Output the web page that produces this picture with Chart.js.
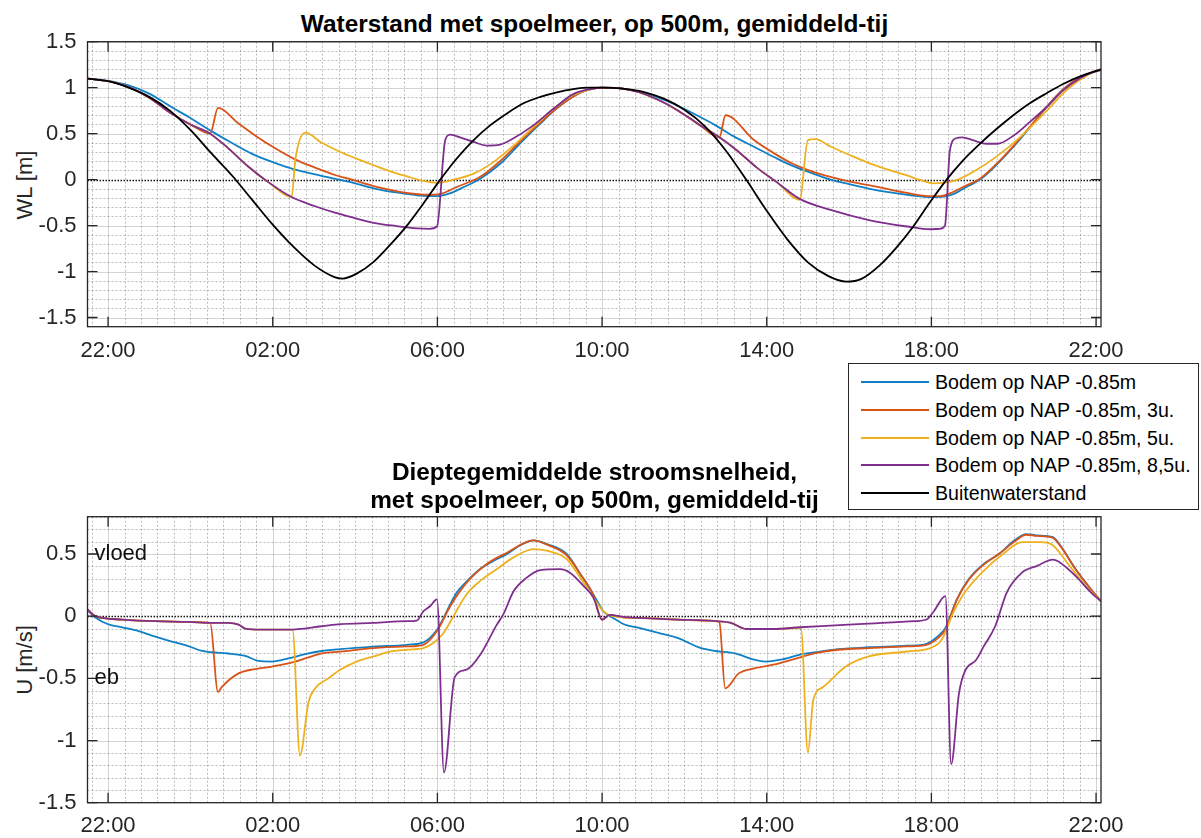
<!DOCTYPE html>
<html>
<head>
<meta charset="utf-8">
<script src="https://cdn.jsdelivr.net/npm/chart.js@4.4.1/dist/chart.umd.min.js"></script>
<style>
  body { margin: 0; background: #fff; width: 1201px; height: 838px; position: relative; overflow: hidden;
         font-family: "Liberation Sans", Arial, Helvetica, sans-serif; color: #262626; }
  canvas { position: absolute; left: 0; }
  #wlCanvas { top: 0; }
  #uCanvas { top: 470px; }
  .title { position: absolute; left: 0; width: 1189px; text-align: center; font-weight: bold;
           font-size: 24.4px; line-height: 28px; color: #000; white-space: nowrap; }
  .ylab { position: absolute; width: 200px; height: 26px; line-height: 26px; font-size: 22px;
          text-align: center; transform: rotate(-90deg); white-space: nowrap; }
  #legend { position: absolute; left: 848px; top: 363px; width: 349px; height: 145px; background: #fff;
            border: 1px solid #262626; z-index: 5; }
  .entry { position: absolute; left: 0; height: 28px; width: 349px; font-size: 19.6px; line-height: 28px; color: #000; }
  .entry i { position: absolute; left: 12px; top: 13px; width: 68px; height: 2px; }
  .entry span { position: absolute; left: 86px; top: 0; white-space: nowrap; }
</style>
</head>
<body>
<div class="title" style="top:10px">Waterstand met spoelmeer, op 500m, gemiddeld-tij</div>
<div class="title" style="top:458px; z-index:4">Dieptegemiddelde stroomsnelheid,<br>met spoelmeer, op 500m, gemiddeld-tij</div>
<div class="ylab" style="left:-75px; top:172px">WL [m]</div>
<div class="ylab" style="left:-75px; top:647px">U [m/s]</div>
<canvas id="wlCanvas" width="1201" height="380"></canvas>
<canvas id="uCanvas" width="1201" height="368"></canvas>
<div id="legend"></div>

<script>
// time axis in hours after 22:00 (day 1)
const X_MIN = -0.5, X_MAX = 24.12;
const xTickHours = [0, 4, 8, 12, 16, 20, 24];
const xTickLabels = ['22:00', '02:00', '06:00', '10:00', '14:00', '18:00', '22:00'];

const wlTickValues = [-1.5, -1, -0.5, 0, 0.5, 1, 1.5];
const wlTickLabels = ['-1.5', '-1', '-0.5', '0', '0.5', '1', '1.5'];
const uTickValues = [-1.5, -1, -0.5, 0, 0.5];
const uTickLabels = ['-1.5', '-1', '-0.5', '0', '0.5'];

const seriesNames = ['Bodem op NAP -0.85m', 'Bodem op NAP -0.85m, 3u.', 'Bodem op NAP -0.85m, 5u.',
                     'Bodem op NAP -0.85m, 8,5u.', 'Buitenwaterstand'];
const seriesColors = ['#0f80c6', '#d95319', '#edb120', '#7e2f8e', '#000000'];

// waterstand [m] as [hour, value]
const wlBlue = [[-0.5,1.098],[0,1.075],[0.5,1.025],[1,0.935],[1.5,0.80],[2,0.67],[2.5,0.53],[3,0.40],[3.5,0.28],
  [4,0.19],[4.5,0.115],[5,0.06],[5.5,0.01],[6,-0.04],[6.5,-0.10],[7,-0.14],[7.5,-0.17],[8,-0.18],[8.3,-0.15],
  [8.6,-0.09],[9.04,0.01],[9.52,0.17],[10,0.39],[10.5,0.61],[11,0.81],[11.5,0.95],[12,1.0],[12.5,0.99],
  [12.9,0.955],[13.4,0.885],[13.85,0.80],[14.3,0.70],[14.76,0.59],[15.2,0.47],[15.7,0.355],[16.2,0.24],
  [16.6,0.155],[17.1,0.07],[17.55,0.0],[18,-0.05],[18.5,-0.10],[19,-0.14],[19.5,-0.17],[20,-0.19],[20.3,-0.185],
  [20.55,-0.155],[20.85,-0.08],[21.18,0.0],[21.58,0.16],[22,0.36],[22.4,0.57],[22.8,0.79],[23.2,0.98],
  [23.6,1.11],[24.12,1.2]];
const wlOrange = [[-0.5,1.098],[0,1.07],[0.5,1.005],[1,0.89],[1.5,0.73],[2,0.60],[2.48,0.50],[2.67,0.78],
  [3.17,0.61],[3.57,0.48],[4.06,0.34],[4.54,0.22],[5.03,0.13],[5.51,0.05],[5.84,0.01],[6.45,-0.07],[7.26,-0.145],
  [7.74,-0.165],[8.07,-0.155],[8.47,-0.08],[9.04,0.03],[9.52,0.20],[10,0.41],[10.5,0.62],[11,0.81],[11.5,0.95],
  [12,1.0],[12.5,0.99],[12.9,0.95],[13.4,0.86],[13.85,0.75],[14.35,0.60],[14.85,0.46],[15.0,0.70],[15.69,0.43],
  [16.2,0.28],[16.62,0.175],[17.1,0.09],[17.55,0.03],[18,-0.02],[18.48,-0.06],[19,-0.11],[19.41,-0.145],
  [19.97,-0.18],[20.2,-0.18],[20.5,-0.14],[20.77,-0.08],[21.18,0.01],[21.58,0.17],[22,0.37],[22.4,0.58],
  [22.8,0.79],[23.2,0.98],[23.6,1.11],[24.12,1.2]];
const wlYellow = [[-0.5,1.098],[0,1.07],[0.5,1.005],[1,0.89],[1.5,0.73],[2,0.60],[2.48,0.50],[2.92,0.34],
  [3.41,0.14],[3.9,-0.03],[4.46,-0.19],[4.55,0.22],[4.79,0.51],[5.19,0.40],[5.64,0.30],[6.05,0.225],[6.45,0.156],
  [6.85,0.09],[7.26,0.035],[7.66,-0.015],[7.99,-0.035],[8.31,-0.01],[8.88,0.065],[9.36,0.19],[9.85,0.37],
  [10.33,0.57],[10.82,0.77],[11.3,0.92],[11.8,0.99],[12,1.0],[12.5,0.99],[12.9,0.95],[13.4,0.86],[13.85,0.75],
  [14.35,0.60],[14.85,0.46],[15.27,0.32],[15.76,0.13],[16.25,-0.03],[16.8,-0.22],[17.0,0.43],[17.18,0.44],
  [17.55,0.36],[18,0.27],[18.48,0.18],[19,0.10],[19.41,0.045],[19.7,0.0],[20.06,-0.04],[20.3,-0.035],
  [20.61,-0.005],[21,0.08],[21.58,0.25],[22.15,0.46],[22.8,0.75],[23.3,0.98],[23.93,1.17],[24.12,1.2]];
const wlPurple = [[-0.5,1.098],[0,1.07],[0.5,1.005],[1,0.89],[1.5,0.73],[2,0.60],[2.48,0.50],[2.92,0.34],
  [3.41,0.14],[3.9,-0.03],[4.46,-0.19],[5.03,-0.29],[5.51,-0.36],[5.84,-0.40],[6.45,-0.47],[7,-0.505],
  [7.5,-0.53],[7.8,-0.535],[7.99,-0.51],[8.19,0.43],[8.31,0.49],[8.55,0.46],[8.88,0.41],[9.2,0.37],[9.52,0.38],
  [9.85,0.45],[10.33,0.59],[10.82,0.77],[11.3,0.93],[11.79,0.99],[12,1.0],[12.5,0.99],[12.9,0.95],[13.4,0.86],
  [13.85,0.75],[14.35,0.60],[14.85,0.46],[15.27,0.32],[15.76,0.13],[16.25,-0.03],[16.8,-0.21],[17.55,-0.33],
  [18.48,-0.44],[19.41,-0.51],[19.97,-0.54],[20.2,-0.535],[20.33,-0.50],[20.45,0.32],[20.6,0.45],[20.75,0.46],
  [21,0.43],[21.34,0.39],[21.6,0.39],[22,0.48],[22.4,0.63],[22.8,0.79],[23.2,0.97],[23.6,1.10],[23.93,1.17],
  [24.12,1.19]];
const wlBlack = [[-0.5,1.098],[0,1.07],[0.5,1.0],[1,0.90],[1.5,0.75],[2,0.54],[2.5,0.29],[3,0.05],[3.5,-0.22],
  [4,-0.49],[4.5,-0.73],[5,-0.93],[5.5,-1.06],[5.7,-1.076],[6.05,-1.02],[6.45,-0.895],[6.85,-0.71],[7.26,-0.50],
  [7.66,-0.26],[8.07,0.0],[8.47,0.23],[8.88,0.43],[9.28,0.59],[9.69,0.72],[10.09,0.83],[10.5,0.90],[10.9,0.95],
  [11.3,0.985],[11.7,1.0],[12,1.0],[12.5,0.99],[13,0.955],[13.5,0.88],[14,0.76],[14.5,0.58],[15,0.32],[15.5,0.0],
  [16,-0.34],[16.5,-0.65],[17,-0.90],[17.5,-1.05],[17.93,-1.11],[18.3,-1.08],[18.75,-0.93],[19.15,-0.74],
  [19.56,-0.51],[19.96,-0.25],[20.37,0.0],[20.77,0.21],[21.18,0.39],[21.58,0.55],[21.99,0.70],[22.39,0.83],
  [22.8,0.94],[23.2,1.04],[23.6,1.12],[24.12,1.2]];

// stroomsnelheid [m/s] as [hour, value]
const uBlue = [[-0.5,0.045],[-0.31,-0.01],[0,-0.065],[0.34,-0.09],[0.74,-0.12],[1.15,-0.165],[1.55,-0.205],
  [1.95,-0.24],[2.28,-0.28],[2.52,-0.29],[2.92,-0.30],[3.33,-0.32],[3.65,-0.36],[3.98,-0.365],[4.38,-0.34],
  [4.79,-0.305],[5.19,-0.28],[5.64,-0.265],[6.45,-0.245],[7.26,-0.23],[7.66,-0.21],[7.82,-0.175],[7.99,-0.11],
  [8.15,-0.015],[8.31,0.095],[8.47,0.19],[8.71,0.28],[9.04,0.38],[9.36,0.445],[9.69,0.50],[10.01,0.57],
  [10.33,0.61],[10.66,0.58],[11.14,0.50],[11.47,0.34],[11.79,0.175],[12.03,0.04],[12.25,-0.01],[12.53,-0.065],
  [12.9,-0.095],[13.37,-0.135],[13.83,-0.175],[14.39,-0.255],[14.76,-0.28],[15.23,-0.30],[15.69,-0.35],
  [15.97,-0.365],[16.34,-0.35],[16.81,-0.31],[17.18,-0.29],[17.74,-0.265],[18.48,-0.25],[19.41,-0.238],
  [19.88,-0.222],[20.16,-0.16],[20.34,-0.095],[20.62,0.135],[20.9,0.295],[21.27,0.42],[21.64,0.50],[22.02,0.61],
  [22.3,0.66],[22.57,0.65],[22.95,0.635],[23.13,0.57],[23.5,0.38],[23.88,0.215],[24.12,0.12]];
const uOrange = [[-0.5,0.055],[-0.31,0.0],[0.34,-0.027],[1.15,-0.04],[1.95,-0.046],[2.48,-0.054],[2.67,-0.61],
  [2.76,-0.57],[3.17,-0.46],[3.57,-0.425],[3.98,-0.405],[4.38,-0.38],[4.79,-0.34],[5.19,-0.30],[5.64,-0.285],
  [6.45,-0.257],[7.26,-0.243],[7.66,-0.23],[7.99,-0.12],[8.31,0.08],[8.71,0.27],[9.2,0.42],[9.69,0.51],
  [10.33,0.61],[10.66,0.575],[11.14,0.49],[11.47,0.34],[11.79,0.17],[12.0,-0.03],[12.18,0.01],[12.5,-0.01],
  [12.9,-0.014],[13.83,-0.027],[14.76,-0.04],[14.85,-0.05],[14.99,-0.58],[15.32,-0.46],[15.69,-0.42],
  [16.16,-0.39],[16.62,-0.35],[17.18,-0.297],[17.74,-0.27],[18.48,-0.257],[19.41,-0.243],[19.88,-0.23],
  [20.16,-0.176],[20.34,-0.108],[20.62,0.135],[20.9,0.29],[21.27,0.415],[21.64,0.50],[22.02,0.60],[22.3,0.655],
  [22.57,0.645],[22.95,0.63],[23.13,0.565],[23.5,0.38],[23.88,0.215],[24.12,0.12]];
const uYellow = [[-0.5,0.055],[-0.31,0.0],[0.34,-0.027],[1.15,-0.04],[1.95,-0.046],[2.48,-0.054],[2.92,-0.054],
  [3.17,-0.068],[3.33,-0.10],[3.73,-0.108],[4.48,-0.108],[4.66,-1.12],[4.87,-0.69],[5.03,-0.58],[5.35,-0.50],
  [5.64,-0.43],[6.04,-0.365],[6.45,-0.324],[6.85,-0.285],[7.26,-0.27],[7.66,-0.257],[7.9,-0.216],[8.15,-0.135],
  [8.39,0.0],[8.71,0.176],[9.04,0.284],[9.44,0.378],[9.85,0.473],[10.33,0.54],[10.66,0.527],[11.14,0.46],
  [11.47,0.31],[11.79,0.149],[12.03,0.04],[12.25,0.0],[12.9,-0.014],[13.83,-0.027],[14.76,-0.04],[15.13,-0.054],
  [15.5,-0.103],[16.16,-0.103],[16.83,-0.095],[17.0,-1.095],[17.13,-0.676],[17.37,-0.57],[17.92,-0.405],
  [18.48,-0.324],[19.41,-0.284],[19.97,-0.257],[20.25,-0.19],[20.53,0.027],[20.81,0.19],[21.27,0.365],
  [21.74,0.5],[22.2,0.595],[22.67,0.595],[22.95,0.57],[23.32,0.42],[23.78,0.23],[24.12,0.12]];
const uPurple = [[-0.5,0.055],[-0.31,0.0],[0.34,-0.027],[1.15,-0.04],[1.95,-0.046],[2.48,-0.054],[2.92,-0.054],
  [3.17,-0.068],[3.33,-0.10],[3.73,-0.108],[4.38,-0.108],[5.19,-0.081],[5.64,-0.064],[6.45,-0.054],[7.26,-0.04],
  [7.5,-0.035],[7.66,0.04],[7.82,0.08],[7.99,0.135],[8.16,-1.257],[8.42,-0.49],[8.71,-0.43],[9.04,-0.31],
  [9.44,-0.07],[9.6,0.014],[9.85,0.20],[10.17,0.31],[10.5,0.37],[10.98,0.378],[11.22,0.35],[11.55,0.243],
  [11.79,0.149],[12.0,-0.027],[12.18,0.01],[12.5,-0.005],[12.9,-0.014],[13.83,-0.027],[14.76,-0.04],
  [15.13,-0.054],[15.5,-0.103],[16.16,-0.103],[16.81,-0.089],[17.55,-0.076],[18.48,-0.06],[19.6,-0.04],
  [19.88,-0.027],[20.06,0.04],[20.34,0.162],[20.48,-1.19],[20.67,-0.62],[20.81,-0.446],[21.09,-0.35],
  [21.27,-0.243],[21.55,-0.081],[21.83,0.19],[22.2,0.35],[22.57,0.405],[22.95,0.454],[23.13,0.43],[23.5,0.324],
  [23.88,0.19],[24.12,0.12]];

// text marks in the velocity panel
const uNotes = [{ x: -0.33, y: 0.5, text: 'vloed' }, { x: -0.33, y: -0.5, text: 'eb' }];

const FONT = "'Liberation Sans', Arial, Helvetica, sans-serif";
const AXIS_COLOR = '#262626';

// MATLAB-style axes: minor/major grid, dotted zero line, box with inward ticks
const matlabAxes = {
  id: 'matlabAxes',
  beforeDatasetsDraw(chart, args, opts) {
    const { ctx, chartArea: a, scales: { x, y } } = chart;
    ctx.save();
    ctx.beginPath();
    ctx.rect(a.left, a.top, a.right - a.left, a.bottom - a.top);
    ctx.clip();
    ctx.lineWidth = 1;

    const vLine = (v, col, dash) => {
      const px = Math.round(x.getPixelForValue(v)) + 0.5;
      ctx.strokeStyle = col; ctx.setLineDash(dash);
      ctx.beginPath(); ctx.moveTo(px, a.top); ctx.lineTo(px, a.bottom); ctx.stroke();
    };
    const hLine = (v, col, dash) => {
      const py = Math.round(y.getPixelForValue(v)) + 0.5;
      ctx.strokeStyle = col; ctx.setLineDash(dash);
      ctx.beginPath(); ctx.moveTo(a.left, py); ctx.lineTo(a.right, py); ctx.stroke();
    };

    // minor grid
    for (let k = Math.ceil(x.min / 0.4); k * 0.4 <= x.max; k++) {
      if (k % 10 !== 0) vLine(k * 0.4, 'rgba(38,38,38,0.3)', [2, 2]);
    }
    for (let k = Math.ceil(y.min * 10 - 1e-6); k <= y.max * 10 + 1e-6; k++) {
      if (k % 5 !== 0) hLine(k / 10, 'rgba(38,38,38,0.3)', [2, 2]);
    }
    // major grid
    opts.xMajor.forEach(v => vLine(v, 'rgba(38,38,38,0.2)', []));
    opts.yMajor.forEach(v => { if (v !== 0) hLine(v, 'rgba(38,38,38,0.2)', []); });
    // zero line
    ctx.lineWidth = 1.3;
    hLine(0, '#111', [1.5, 1.5]);
    ctx.restore();
  },
  afterDatasetsDraw(chart, args, opts) {
    const { ctx, chartArea: a, scales: { x, y } } = chart;
    ctx.save();
    ctx.strokeStyle = AXIS_COLOR;
    ctx.lineWidth = 1.3;
    ctx.setLineDash([]);
    ctx.strokeRect(a.left, a.top, a.right - a.left, a.bottom - a.top);
    const len = 10;
    ctx.beginPath();
    opts.xMajor.forEach(v => {
      const px = x.getPixelForValue(v);
      ctx.moveTo(px, a.bottom); ctx.lineTo(px, a.bottom - len);
      ctx.moveTo(px, a.top); ctx.lineTo(px, a.top + len);
    });
    opts.yMajor.forEach(v => {
      const py = y.getPixelForValue(v);
      ctx.moveTo(a.left, py); ctx.lineTo(a.left + len, py);
      ctx.moveTo(a.right, py); ctx.lineTo(a.right - len, py);
    });
    ctx.stroke();

    // annotations
    ctx.fillStyle = '#111';
    ctx.font = '22px ' + FONT;
    ctx.textAlign = 'left';
    ctx.textBaseline = 'middle';
    (opts.notes || []).forEach(n => ctx.fillText(n.text, x.getPixelForValue(n.x), y.getPixelForValue(n.y)));
    ctx.restore();
  }
};

function makePanel(canvasId, series, yMin, yMax, yTicks, yLabels, padding, xHeight, xPad, notes) {
  return new Chart(document.getElementById(canvasId), {
    type: 'line',
    data: {
      datasets: series.map((s, i) => ({
        label: seriesNames[i],
        data: s.map(([h, v]) => ({ x: h, y: v })),
        borderColor: seriesColors[i],
        borderWidth: 1.8,
        pointRadius: 0,
        fill: false,
        cubicInterpolationMode: 'monotone',
        order: series.length - i
      }))
    },
    options: {
      responsive: false,
      animation: false,
      devicePixelRatio: 1,
      events: [],
      layout: { padding },
      plugins: {
        legend: { display: false },
        tooltip: { enabled: false },
        matlabAxes: { xMajor: xTickHours, yMajor: yTicks, notes }
      },
      scales: {
        x: {
          type: 'linear', min: X_MIN, max: X_MAX,
          grid: { display: false, drawTicks: false },
          border: { display: false },
          afterBuildTicks: sc => { sc.ticks = xTickHours.map(v => ({ value: v })); },
          afterFit: sc => { sc.height = xHeight; },
          ticks: {
            autoSkip: false, maxRotation: 0, padding: xPad, color: AXIS_COLOR,
            font: { family: FONT, size: 22 },
            callback: (v, i) => xTickLabels[i]
          }
        },
        y: {
          type: 'linear', min: yMin, max: yMax,
          grid: { display: false, drawTicks: false },
          border: { display: false },
          afterBuildTicks: sc => { sc.ticks = yTicks.map(v => ({ value: v })); },
          afterFit: sc => { sc.width = 87.5; },
          ticks: {
            autoSkip: false, padding: 11, color: AXIS_COLOR,
            font: { family: FONT, size: 22 },
            callback: (v, i) => yLabels[i]
          }
        }
      }
    },
    plugins: [matlabAxes]
  });
}

makePanel('wlCanvas', [wlBlue, wlOrange, wlYellow, wlPurple, wlBlack], -1.6, 1.5,
  wlTickValues, wlTickLabels, { top: 41.7, right: 100, left: 0, bottom: 13.3 }, 40, 11.4, []);
makePanel('uCanvas', [uBlue, uOrange, uYellow, uPurple], -1.5, 0.8,
  uTickValues, uTickLabels, { top: 46.7, right: 100, left: 0, bottom: 5.3 }, 30, 10.1, uNotes);

// shared legend
const legend = document.getElementById('legend');
seriesNames.forEach((name, i) => {
  const row = document.createElement('div');
  row.className = 'entry';
  row.style.top = (4 + i * 27.8) + 'px';
  const line = document.createElement('i');
  line.style.backgroundColor = seriesColors[i];
  const label = document.createElement('span');
  label.textContent = name;
  row.appendChild(line);
  row.appendChild(label);
  legend.appendChild(row);
});
</script>
</body>
</html>
